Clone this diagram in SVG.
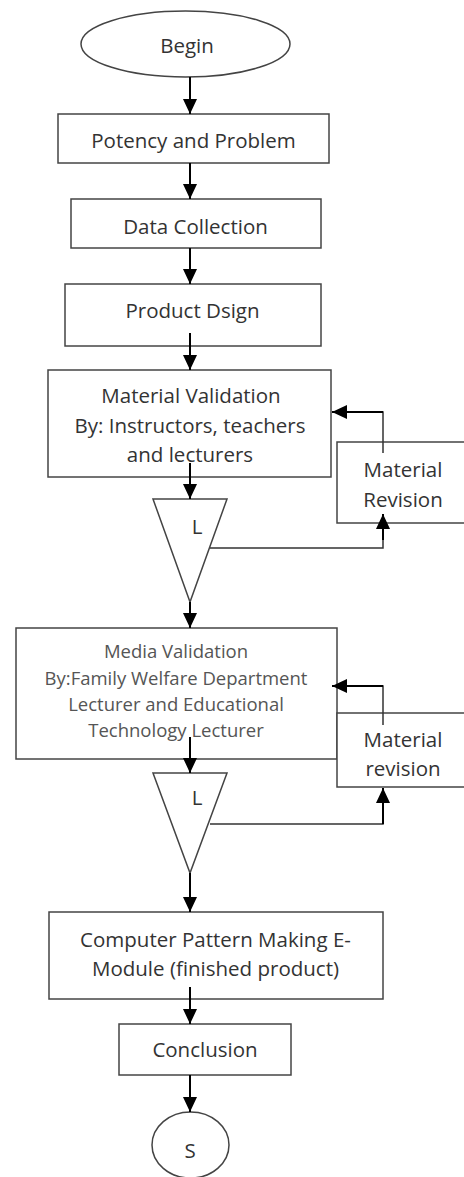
<svg xmlns="http://www.w3.org/2000/svg" width="464" height="1177" viewBox="0 0 464 1177">
<style>
.box{fill:#fff;stroke:#444;stroke-width:1.5}
.t{font-family:"Open Sans","Liberation Sans",sans-serif;font-size:20.5px;fill:#333;text-anchor:middle}
.ts{font-family:"Open Sans","Liberation Sans",sans-serif;font-size:18.5px;fill:#555;text-anchor:middle}
.c{fill:none;stroke:#000;stroke-width:2}
.r{fill:none;stroke:#333;stroke-width:1.5}
</style>
<defs>
<marker id="ah" markerUnits="userSpaceOnUse" markerWidth="15" markerHeight="14" refX="15" refY="7" orient="auto">
<path d="M0,0 L15,7 L0,14 z" fill="#000"/>
</marker>
<clipPath id="clipRev"><rect x="337" y="700" width="127" height="78"/></clipPath>
</defs>
<rect width="464" height="1177" fill="#fff"/>

<g id="begin"><ellipse class="box" cx="185.5" cy="44" rx="104.5" ry="33"/><text class="t" x="187" y="53">Begin</text></g>
<g id="potency"><rect class="box" x="58" y="114" width="271" height="49"/><text class="t" x="193.5" y="148">Potency and Problem</text></g>
<g id="data"><rect class="box" x="71" y="199" width="250" height="49"/><text class="t" x="195.5" y="234">Data Collection</text></g>
<g id="design"><rect class="box" x="65" y="284" width="256" height="62"/><text class="t" x="192.5" y="318">Product Dsign</text></g>
<g id="matval"><rect class="box" x="48" y="370" width="283" height="107"/>
<text class="t" x="191" y="403">Material Validation</text>
<text class="t" x="190" y="433">By: Instructors, teachers</text>
<text class="t" x="190" y="462">and lecturers</text></g>
<g id="tri1"><polygon class="box" points="153,499 227,499 190,602"/><text class="t" x="197" y="534">L</text></g>
<g id="matrev1"><path class="box" d="M466,442 H337 V523 H466"/>
<text class="t" x="403" y="477">Material</text><text class="t" x="403" y="507">Revision</text></g>
<g id="medval"><rect class="box" x="16" y="628" width="321" height="131"/>
<text class="ts" x="176" y="658">Media Validation</text>
<text class="ts" x="176" y="685">By:Family Welfare Department</text>
<text class="ts" x="176" y="711">Lecturer and Educational</text>
<text class="ts" x="176" y="737">Technology Lecturer</text></g>
<g id="tri2"><polygon class="box" points="153,773 227,773 190,873"/><text class="t" x="197" y="805">L</text></g>
<g id="matrev2"><path class="box" d="M466,713 H337 V787 H466"/>
<text class="t" x="403" y="747">Material</text><text class="t" x="403" y="776" clip-path="url(#clipRev)">revision</text></g>
<g id="computer"><rect class="box" x="49" y="912" width="334" height="87"/>
<text class="t" x="215.5" y="947">Computer Pattern Making E-</text>
<text class="t" x="215.5" y="976">Module (finished product)</text></g>
<g id="conclusion"><rect class="box" x="119" y="1024" width="172" height="51"/><text class="t" x="205" y="1057">Conclusion</text></g>
<g id="end"><ellipse class="box" cx="190.5" cy="1145" rx="38.5" ry="33"/><text class="t" x="190" y="1158">S</text></g>

<g id="connectors">
<line class="c" x1="190" y1="77" x2="190" y2="114" marker-end="url(#ah)"/>
<line class="c" x1="190" y1="163" x2="190" y2="199" marker-end="url(#ah)"/>
<line class="c" x1="190" y1="248" x2="190" y2="284" marker-end="url(#ah)"/>
<line class="c" x1="190" y1="333" x2="190" y2="370" marker-end="url(#ah)"/>
<line class="c" x1="190" y1="463" x2="190" y2="499" marker-end="url(#ah)"/>
<line class="c" x1="190" y1="602" x2="190" y2="628" marker-end="url(#ah)"/>
<path class="r" d="M210,548 H383 V530"/>
<line class="c" x1="383" y1="540" x2="383" y2="514" marker-end="url(#ah)"/>
<path class="r" d="M383,453 V412 H350"/>
<line class="c" x1="383" y1="412" x2="332" y2="412" marker-end="url(#ah)"/>
<line class="c" x1="190" y1="737" x2="190" y2="773" marker-end="url(#ah)"/>
<path class="r" d="M210,824 H383 V800"/>
<line class="c" x1="383" y1="824" x2="383" y2="788" marker-end="url(#ah)"/>
<path class="r" d="M383,725 V686 H350"/>
<line class="c" x1="383" y1="686" x2="332" y2="686" marker-end="url(#ah)"/>
<line class="c" x1="190" y1="873" x2="190" y2="912" marker-end="url(#ah)"/>
<line class="c" x1="190" y1="987" x2="190" y2="1024" marker-end="url(#ah)"/>
<line class="c" x1="190" y1="1075" x2="190" y2="1112" marker-end="url(#ah)"/>
</g>
</svg>
